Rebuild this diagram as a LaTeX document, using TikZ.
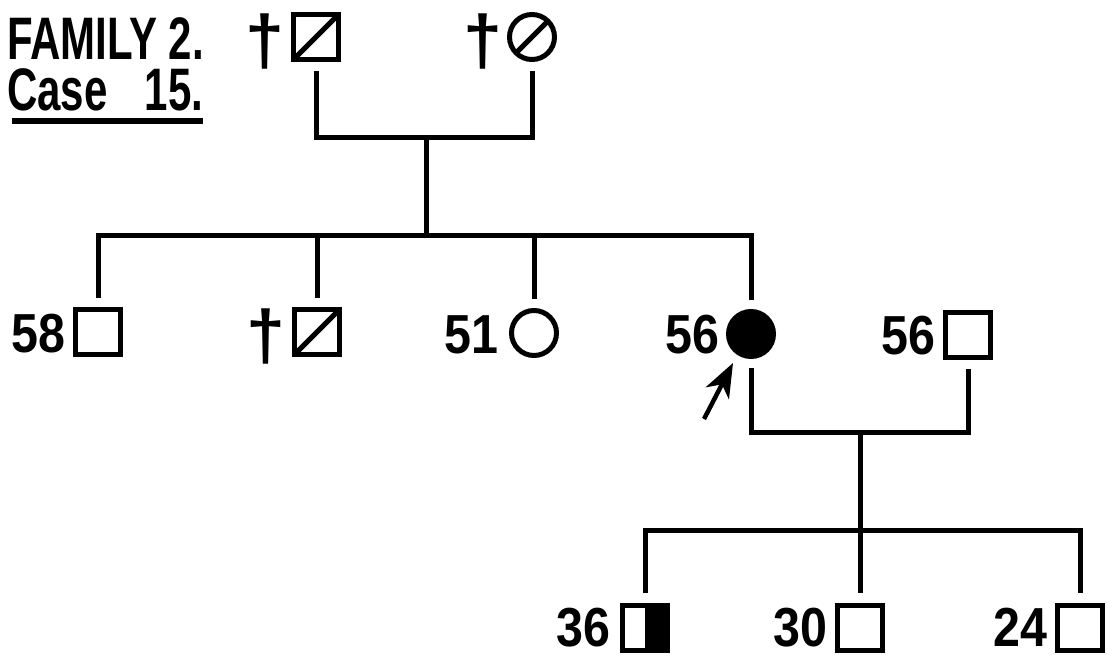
\documentclass[tikz,border=0pt]{standalone}
\usepackage{fontspec}
\setmainfont{Liberation Sans}
\usetikzlibrary{arrows.meta,calc}
\newcommand\mylbl[1]{\scalebox{0.88}[1]{#1}}
\newcommand\mytitle[1]{\scalebox{0.7}[1]{#1}}
\begin{document}
\begin{tikzpicture}[x=1pt,y=-1pt,
  sym/.style={draw, line width=5pt, inner sep=0pt, minimum size=45pt, outer sep=2.5pt},
  male/.style={sym, rectangle},
  female/.style={sym, circle},
  dead/.style={path picture={\draw[line width=5pt] (path picture bounding box.south west) -- (path picture bounding box.north east);}},
  affected/.style={fill=black},
  halfaff/.style={path picture={\fill (path picture bounding box.north) rectangle (path picture bounding box.south east);}},
  lab/.style={inner sep=0pt, text height=39pt, text depth=0pt, font=\bfseries\fontsize{55}{56}\selectfont},
  dag/.style={inner sep=0pt, anchor=east, font=\bfseries\fontsize{70}{70}\selectfont},
  ttl/.style={inner sep=0pt, anchor=base west, text height=43pt, text depth=0pt, font=\bfseries\fontsize{60}{60}\selectfont},
  conn/.style={line width=5pt},
  pointer/.style={line width=4.5pt, -{Stealth[length=34pt,width=26pt,inset=10pt]}}
]
\useasboundingbox[fill=white] (0,0) rectangle (1107,656);

% title
\node[ttl] (t1) at (7,59) {\mytitle{FAMILY 2.}};
\node[ttl] (t2) at (7,110) {\makebox[196pt][l]{\mytitle{Case}\hfill\mytitle{15.}}};
\draw[line width=6pt] ($(t2.south west)+(5,11)$) -- ($(t2.south east)+(0,11)$);

% generation I
\node[male,dead] (gf) at (316,37) {};
\node[female,dead] (gm) at (532,37) {};
\node[dag] (gfd) at ($(gf.west)+(-6,4)$) {†};
\node[dag] (gmd) at ($(gm.west)+(-4,4)$) {†};

\coordinate (m1) at (426,137);
\coordinate (s1) at (426,235);
\draw[conn] ($(gf.south)+(0,9)$) |- (m1) -| ($(gm.south)+(0,9)$);
\draw[conn] (m1) -- (s1);

% generation II
\node[male] (c1) at (98,332) {};
\node[male,dead] (c2) at (317,332) {};
\node[female] (c3) at (534,333) {};
\node[female,affected] (c4) at (751,334) {};
\node[male] (sp) at (968,335) {};

\node[lab,anchor=east] (c1l) at ($(c1.west)+(-7,1)$) {\mylbl{58}};
\node[dag] (c2l) at ($(c2.west)+(-6,4)$) {†};
\node[lab,anchor=east] (c3l) at ($(c3.west)+(-10,1)$) {\mylbl{51}};
\node[lab,anchor=east] (c4l) at ($(c4.west)+(-6,0)$) {\mylbl{56}};
\node[lab,anchor=east] (spl) at ($(sp.west)+(-7,0)$) {\mylbl{56}};

\draw[conn] ($(c1.north)+(0,-9)$) -- (c1 |- s1) -- (c4 |- s1) -- ($(c4.north)+(0,-9)$);
\draw[conn] (c2 |- s1) -- ($(c2.north)+(0,-9)$);
\draw[conn] (c3 |- s1) -- ($(c3.north)+(0,-9)$);

% proband arrow
\coordinate (pt) at (704,419);
\coordinate (ph) at (733,363);
\draw[pointer] (pt) -- (ph);

\coordinate (m2) at (860,432);
\coordinate (s2) at (860,530);
\draw[conn] ($(c4.south)+(0,9)$) |- (m2) -| ($(sp.south)+(0,9)$);
\draw[conn] (m2) -- (s2);

% generation III
\node[male,halfaff] (g1) at (645,628) {};
\node[male] (g2) at (860,628) {};
\node[male] (g3) at (1080,628) {};
\node[lab,anchor=east] (g1l) at ($(g1.west)+(-9,-1)$) {\mylbl{36}};
\node[lab,anchor=east] (g2l) at ($(g2.west)+(-7,-1)$) {\mylbl{30}};
\node[lab,anchor=east] (g3l) at ($(g3.west)+(-7,-1)$) {\mylbl{24}};

\draw[conn] ($(g1.north)+(0,-10)$) -- (g1 |- s2) -- (g3 |- s2) -- ($(g3.north)+(0,-10)$);
\draw[conn] (g2 |- s2) -- ($(g2.north)+(0,-10)$);
\end{tikzpicture}
\end{document}
